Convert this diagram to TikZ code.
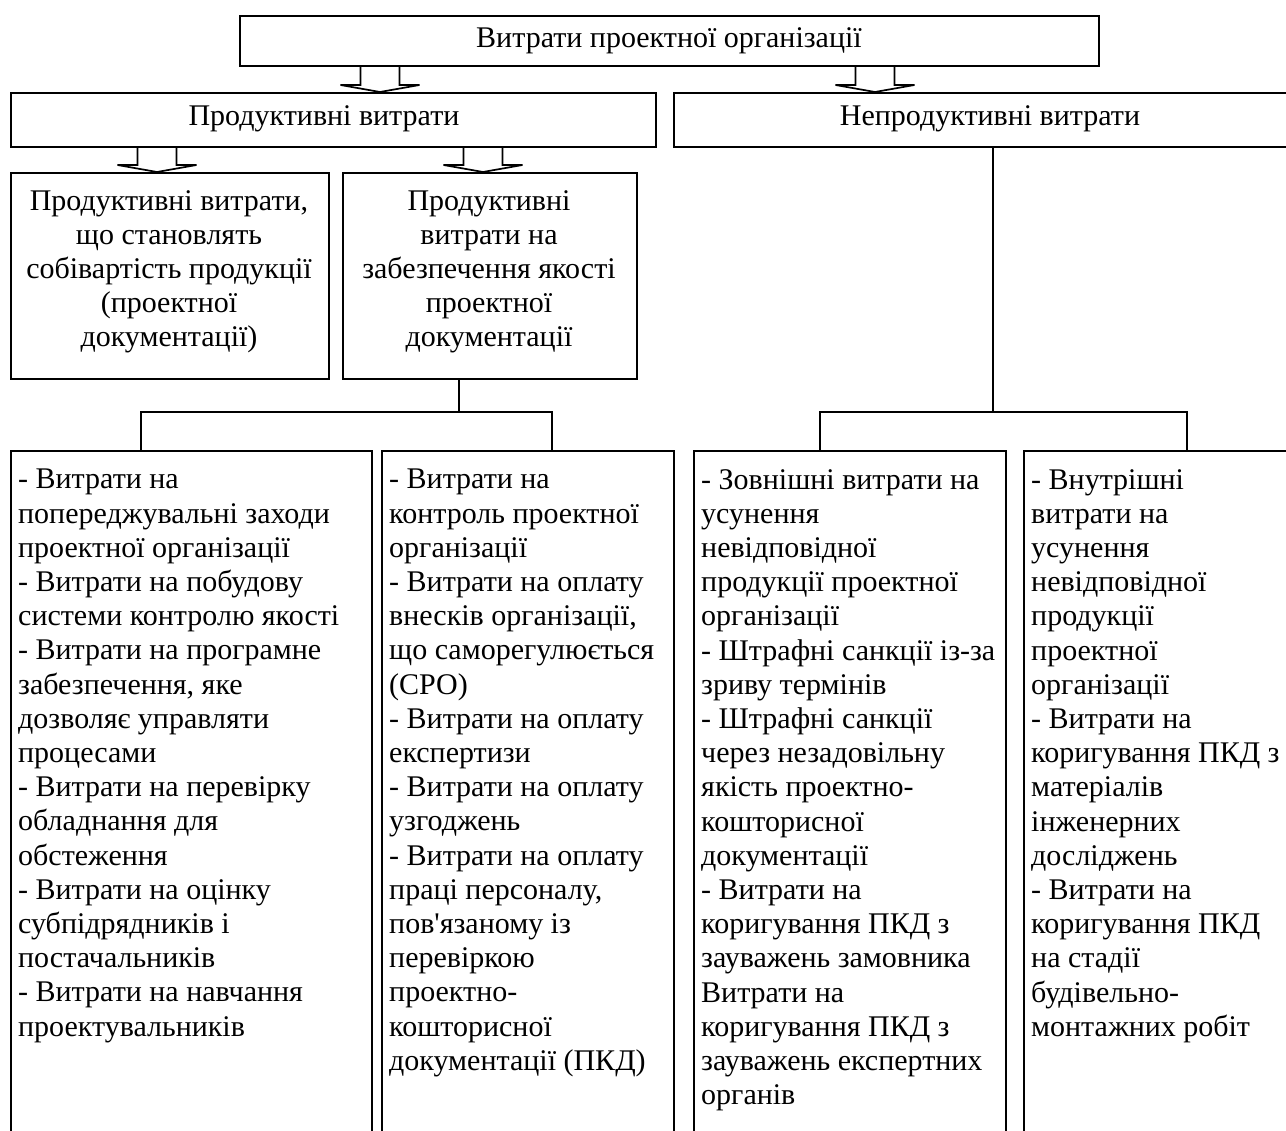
\documentclass[tikz,border=0pt]{standalone}
\usepackage{fontspec}
\setmainfont{Liberation Serif}
\usetikzlibrary{calc}
\newcommand\mybox[5]{%
  \node[box, anchor=north west, minimum width={(#4-#2)*1pt}, minimum height={(#5-#3)*1pt}] (#1) at (#2,#3) {};}
\newcommand\blockarr[3]{%
  \coordinate (ax) at (#1,0);
  \draw[barrow] ($(#2.south -| ax)+(-19.5,0)$) -- ($(#3.north -| ax)+(-19.5,-7)$) -- ++(-20,0)
     -- (#3.north -| ax) -- ++(39.5,-7) -- ++(-20,0) -- ($(#2.south -| ax)+(19.5,0)$);}
\begin{document}
\begin{tikzpicture}[x=1pt,y=-1pt,
  box/.style={draw, line width=1.7pt, inner sep=0pt},
  lbl/.style={inner sep=0pt, font=\fontsize{30}{34.2}\selectfont},
  conn/.style={line width=1.7pt},
  barrow/.style={line width=1.7pt, line join=miter}]
\useasboundingbox (0,0) rectangle (1286,1131);
\clip (0,0) rectangle (1286,1131);

% boxes
\mybox{top}{239}{15}{1098}{65}
\mybox{prod}{10}{92}{655}{146}
\mybox{nepr}{673}{92}{1300}{146}
\mybox{A}{10}{172}{328}{378}
\mybox{B}{342}{172}{636}{378}
\mybox{C}{10}{450}{371}{1145}
\mybox{D}{381}{450}{673}{1145}
\mybox{E}{693}{450}{1005}{1145}
\mybox{F}{1023}{450}{1300}{1145}

% header texts
\node[lbl] (ttop) at (669,41) {Витрати проектної організації};
\node[lbl] (tprod) at (324,119) {Продуктивні витрати};
\node[lbl] (tnepr) at (990,119) {Непродуктивні витрати};

\node[lbl, align=center, anchor=north] (tA) at (169,190) {Продуктивні витрати,\\що становлять\\собівартість продукції\\(проектної\\документації)};
\node[lbl, align=center, anchor=north] (tB) at (489,190) {Продуктивні\\витрати на\\забезпечення якості\\проектної\\документації};

\node[lbl, align=left, anchor=north west] (tC) at (18,469) {- Витрати на\\попереджувальні заходи\\проектної організації\\- Витрати на побудову\\системи контролю якості\\- Витрати на програмне\\забезпечення, яке\\дозволяє управляти\\процесами\\- Витрати на перевірку\\обладнання для\\обстеження\\- Витрати на оцінку\\субпідрядників і\\постачальників\\- Витрати на навчання\\проектувальників};
\node[lbl, align=left, anchor=north west] (tD) at (389,469) {- Витрати на\\контроль проектної\\організації\\- Витрати на оплату\\внесків організації,\\що саморегулюється\\(СРО)\\- Витрати на оплату\\експертизи\\- Витрати на оплату\\узгоджень\\- Витрати на оплату\\праці персоналу,\\пов\textquotesingle язаному із\\перевіркою\\проектно-\\кошторисної\\документації (ПКД)};
\node[lbl, align=left, anchor=north west] (tE) at (701,469) {- Зовнішні витрати на\\усунення\\невідповідної\\продукції проектної\\організації\\- Штрафні санкції із-за\\зриву термінів\\- Штрафні санкції\\через незадовільну\\якість проектно-\\кошторисної\\документації\\- Витрати на\\коригування ПКД з\\зауважень замовника\\Витрати на\\коригування ПКД з\\зауважень експертних\\органів};
\node[lbl, align=left, anchor=north west] (tF) at (1031,469) {- Внутрішні\\витрати на\\усунення\\невідповідної\\продукції\\проектної\\організації\\- Витрати на\\коригування ПКД з\\матеріалів\\інженерних\\досліджень\\- Витрати на\\коригування ПКД\\на стадії\\будівельно-\\монтажних робіт};

% block arrows
\blockarr{380}{top}{prod}
\blockarr{875}{top}{nepr}
\blockarr{157}{prod}{A}
\blockarr{483}{prod}{B}

% tree connectors
\coordinate (bx) at (459,412);
\coordinate (hl1) at (141,412);
\coordinate (hr1) at (552,412);
\draw[conn] (B.south -| bx) -- (bx);
\draw[conn] (C.north -| hl1) -- (hl1) -- (hr1) -- (D.north -| hr1);
\coordinate (nx) at (993,412);
\coordinate (hl2) at (820,412);
\coordinate (hr2) at (1187,412);
\draw[conn] (nepr.south -| nx) -- (nx);
\draw[conn] (E.north -| hl2) -- (hl2) -- (hr2) -- (F.north -| hr2);
\end{tikzpicture}
\end{document}
